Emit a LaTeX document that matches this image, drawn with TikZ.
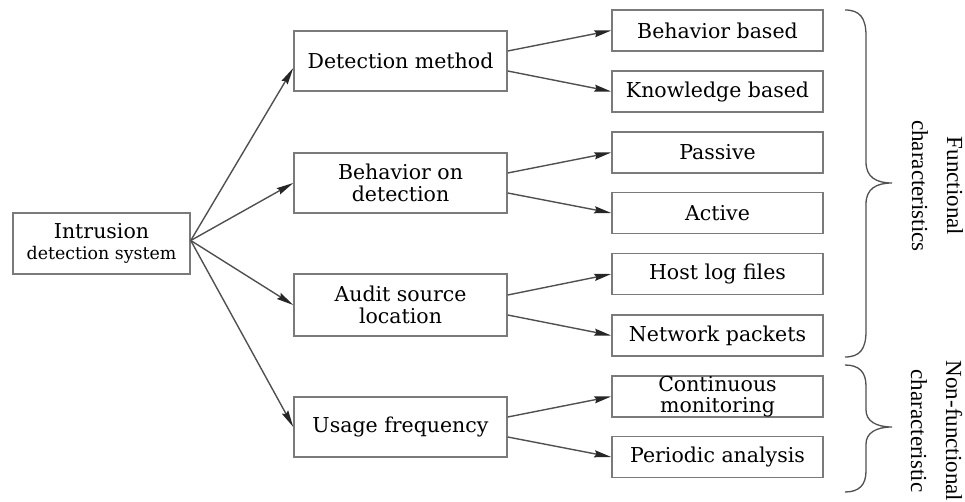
\documentclass[tikz,border=0pt]{standalone}
\usepackage{fontspec}
\setmainfont{DejaVu Serif}
\newfontfamily\labelfont{Liberation Serif}
\usetikzlibrary{arrows.meta}
\definecolor{boxgray}{HTML}{7A7A7A}
\definecolor{linegray}{HTML}{505050}
\newcommand\boxfont{\fontsize{20.5}{21.5}\selectfont}
\newcommand\smallboxfont{\fontsize{17.4}{21.5}\selectfont}
\begin{document}
\begin{tikzpicture}[x=1pt,y=-1pt,
  box/.style={draw=boxgray, line width=1.5pt, fill=white, inner sep=0pt,
              align=center, font=\boxfont},
  midbox/.style={box, minimum width=213pt, minimum height=60pt},
  leafbox/.style={box, minimum width=211pt, minimum height=41pt},
  conn/.style={draw=linegray, line width=1.4pt,
               -{Stealth[length=17pt,width=7pt,inset=2pt,color=black!85]}},
  brace/.style={draw=linegray, line width=1.3pt},
  sidelabel/.style={font=\labelfont\fontsize{23}{35}\selectfont, align=center,
                    rotate=-90, inner sep=0pt}]
\useasboundingbox (0,0) rectangle (965,502);

% root
\node[box, minimum width=177pt, minimum height=61pt] (ids) at (101.5,243.5)
  {Intrusion\\[-1pt]{\smallboxfont detection system}};

% second level
\node[midbox] (dm)  at (400.5,61)  {Detection method};
\node[midbox] (bod) at (400.5,183) {Behavior on\\detection};
\node[midbox, minimum height=62pt] (asl) at (400.5,305) {Audit source\\location};
\node[midbox] (uf)  at (400.5,427) {Usage frequency};

% leaves
\node[leafbox] (bb) at (717.5,30.5)  {Behavior based};
\node[leafbox] (kb) at (717.5,91.5)  {Knowledge based};
\node[leafbox] (pa) at (717.5,152.5) {Passive};
\node[leafbox] (ac) at (717.5,213)   {Active};
\node[leafbox] (hl) at (717.5,274)   {Host log files};
\node[leafbox] (np) at (717.5,335.5) {Network packets};
\node[leafbox] (cm) at (717.5,396.5) {Continuous\\monitoring};
\node[leafbox] (pe) at (717.5,457)   {Periodic analysis};

% root to second level
\path[conn] ([yshift=3pt]ids.east) -- ([yshift=-7pt]dm.west);
\path[conn] ([yshift=3pt]ids.east) -- (bod.west);
\path[conn] ([yshift=3pt]ids.east) -- (asl.west);
\path[conn] ([yshift=3pt]ids.east) -- (uf.west);

% second level to leaves
\path[conn] ([yshift=10pt]dm.east)  -- (bb.west);
\path[conn] ([yshift=-10pt]dm.east) -- (kb.west);
\path[conn] ([yshift=10pt]bod.east)  -- (pa.west);
\path[conn] ([yshift=-10pt]bod.east) -- (ac.west);
\path[conn] ([yshift=10pt]asl.east)  -- (hl.west);
\path[conn] ([yshift=-10pt]asl.east) -- (np.west);
\path[conn] ([yshift=10pt]uf.east)  -- (cm.west);
\path[conn] ([yshift=-10pt]uf.east) -- (pe.west);

% braces
\draw[brace] (845,10) .. controls (860,10) and (866,18) .. (866,36)
  -- (866,162) .. controls (866,177) and (876,183) .. (892,183)
  .. controls (876,183) and (866,189) .. (866,204)
  -- (866,331) .. controls (866,349) and (860,357) .. (845,357);
\draw[brace] (845,365) .. controls (859,365) and (866,372) .. (866,386)
  -- (866,410) .. controls (866,421) and (876,427) .. (892,427)
  .. controls (876,427) and (866,433) .. (866,444)
  -- (866,471) .. controls (866,485) and (859,492) .. (845,492);

\node[sidelabel] (fc) at (937.5,186) {Functional\\characteristics};
\node[sidelabel] (nf) at (936.5,431) {Non-functional\\characteristic};
\end{tikzpicture}
\end{document}
